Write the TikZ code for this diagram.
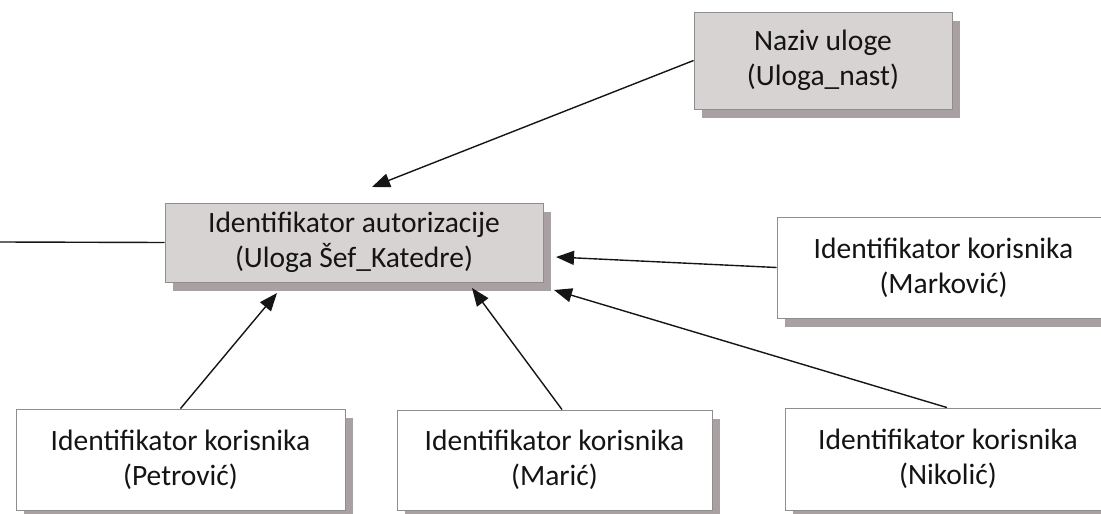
\documentclass[tikz,border=0pt]{standalone}
\usepackage{fontspec}
\setmainfont{Carlito}
\usetikzlibrary{arrows.meta,shadows}
\definecolor{boxgray}{HTML}{D8D3D3}
\definecolor{shadowgray}{HTML}{A8A0A1}
\definecolor{edgegray}{HTML}{8E8E8E}
\definecolor{inkline}{HTML}{151515}
\tikzset{
  card/.style={draw=edgegray, line width=0.9pt, inner sep=0pt, align=center,
    font=\fontsize{29.5}{35}\selectfont, text=black!92,
    general shadow={fill=shadowgray, shadow xshift=8pt, shadow yshift=-9pt}},
  rolecard/.style={card, fill=boxgray},
  usercard/.style={card, fill=white},
  link/.style={draw=inkline, line width=1.4pt, -{Triangle[length=18pt,width=14pt]}},
  plainlink/.style={draw=inkline, line width=1.4pt}
}
\begin{document}
\begin{tikzpicture}[x=1pt,y=-1pt]
  \useasboundingbox (0,0) rectangle (1101,514);
  \begin{scope}
  \clip (0,0) rectangle (1101,514);
  % roles
  \node[rolecard, minimum width=258pt, minimum height=97pt] (naziv) at (823,60.5)
    {Naziv uloge\\(Uloga\_nast)};
  \node[rolecard, minimum width=378pt, minimum height=79pt] (auth) at (354,242.5)
    {Identifikator autorizacije\\(Uloga Šef\_Katedre)};
  % users
  \node[usercard, minimum width=333pt, minimum height=101pt] (markovic) at (943.5,267.5)
    {Identifikator korisnika\\(Marković)};
  \node[usercard, minimum width=329pt, minimum height=101pt] (petrovic) at (180.5,459.5)
    {Identifikator korisnika\\(Petrović)};
  \node[usercard, minimum width=315pt, minimum height=100pt] (maric) at (554.5,460)
    {Identifikator korisnika\\(Marić)};
  \node[usercard, minimum width=326pt, minimum height=102pt] (nikolic) at (948,459)
    {Identifikator korisnika\\(Nikolić)};
  % arrow tips
  \coordinate (tNaziv) at (372,187);
  \coordinate (tMarkovic) at (556,257);
  \coordinate (tNikolic) at (554,290);
  \coordinate (tPetrovic) at (277,293);
  \coordinate (tMaric) at (472,288);
  \coordinate (offLeft) at (0,242);
  % connectors
  \draw[link] (naziv.west) -- (tNaziv);
  \draw[link] (markovic.west) -- (tMarkovic);
  \draw[link] (nikolic.north) ++(-1,0) -- (tNikolic);
  \draw[link] (petrovic.north) -- (tPetrovic);
  \draw[link] (maric.north) ++(7.5,0) -- (tMaric);
  \draw[plainlink] (offLeft) -- (auth.west);
  \end{scope}
\end{tikzpicture}
\end{document}
